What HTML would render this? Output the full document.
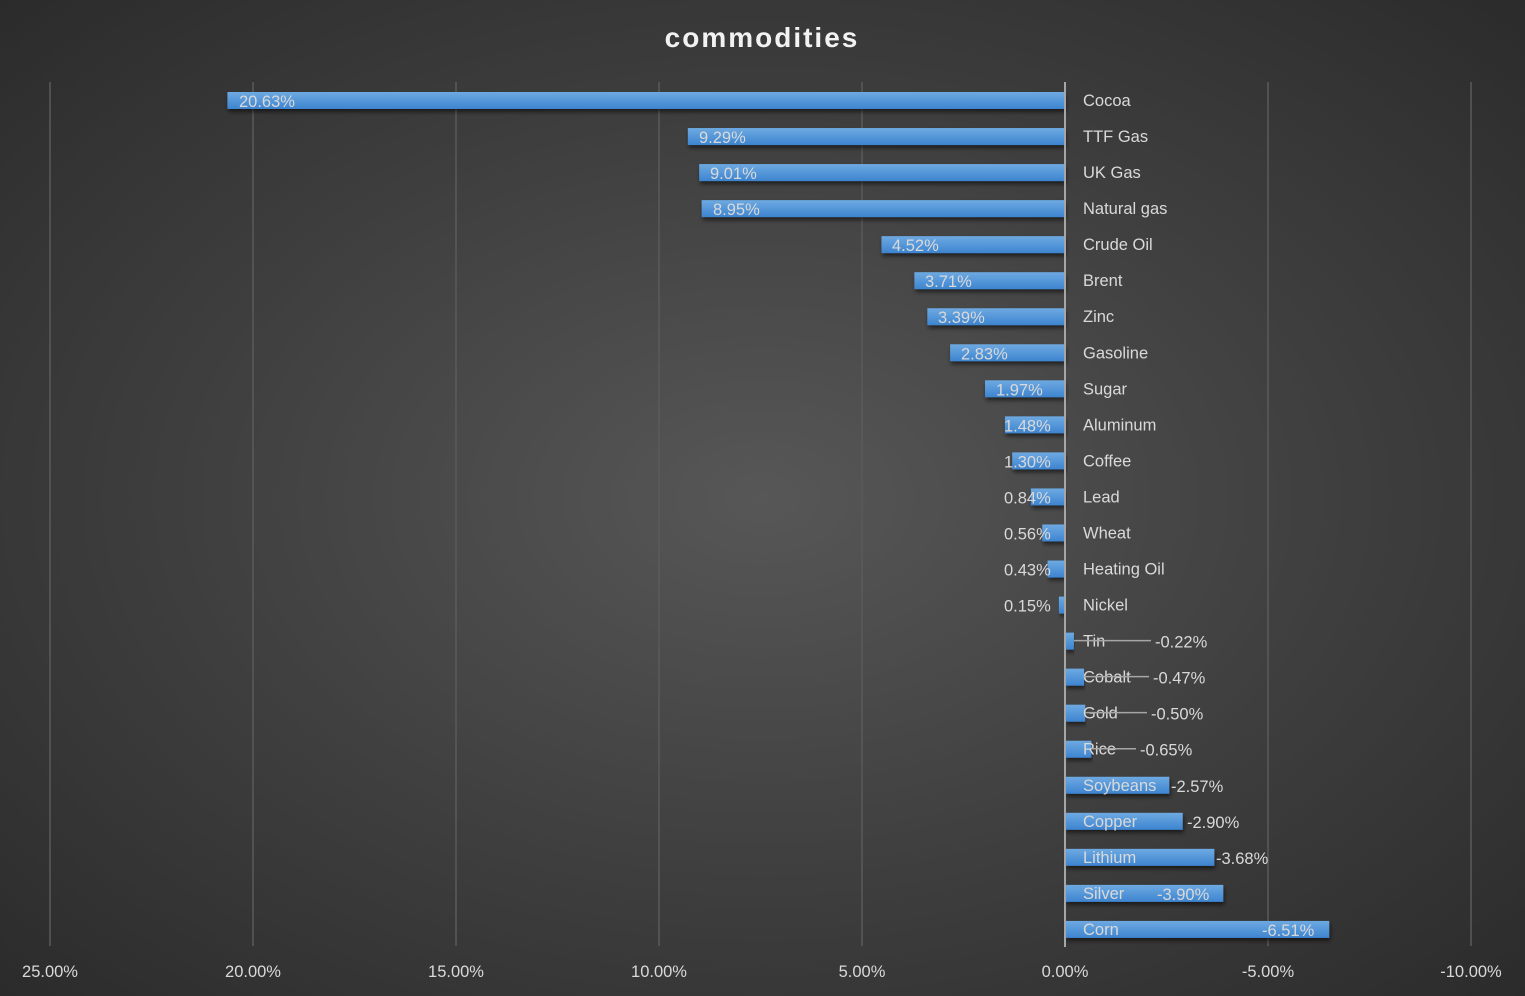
<!DOCTYPE html>
<html><head><meta charset="utf-8"><style>
html,body{margin:0;padding:0;width:1525px;height:996px;overflow:hidden}
body{background:radial-gradient(ellipse at 50% 50%,#575757 0%,#3e3e3e 55%,#2b2b2b 100%)}
svg{position:absolute;left:0;top:0}
text{font-family:"Liberation Sans",sans-serif;fill:#d9d9d9}
</style></head><body>
<svg id="s" width="1525" height="996" xmlns="http://www.w3.org/2000/svg">
<defs>
<linearGradient id="g" x1="0" y1="0" x2="0" y2="1"><stop offset="0" stop-color="#6eaae2"/><stop offset="1" stop-color="#3d84cf"/></linearGradient>
<filter id="sh" x="-5%" y="-30%" width="110%" height="180%"><feDropShadow dx="1" dy="3" stdDeviation="2" flood-color="#000" flood-opacity="0.55"/></filter>
</defs>
<text x="762" y="47" text-anchor="middle" font-size="28" font-weight="bold" letter-spacing="2" style="fill:#f2f2f2">commodities</text>
</svg>
<script>
var s=document.getElementById('s'),NS='http://www.w3.org/2000/svg';
function el(t,a,txt){var e=document.createElementNS(NS,t);for(var k in a)e.setAttribute(k,a[k]);if(txt)e.textContent=txt;s.appendChild(e);return e;}
var X=function(v){return 1065-v*40.6;};
var ticks=[25,20,15,10,5,0,-5,-10];
ticks.forEach(function(t){var x=X(t);
 if(t!==0)el('line',{x1:x,y1:82,x2:x,y2:946,stroke:'#5a5a5a','stroke-width':1.5});
 el('text',{x:x,y:977,'text-anchor':'middle','font-size':16.5},t.toFixed(2)+'%');});
var d=[["Cocoa",20.63,239],["TTF Gas",9.29,699],["UK Gas",9.01,710],["Natural gas",8.95,713],["Crude Oil",4.52,892],["Brent",3.71,925],["Zinc",3.39,938],["Gasoline",2.83,961],["Sugar",1.97,996],["Aluminum",1.48,1004],["Coffee",1.30,1004],["Lead",0.84,1004],["Wheat",0.56,1004],["Heating Oil",0.43,1004],["Nickel",0.15,1004],
["Tin",-0.22,1155],["Cobalt",-0.47,1153],["Gold",-0.50,1151],["Rice",-0.65,1140],["Soybeans",-2.57,1171],["Copper",-2.90,1187],["Lithium",-3.68,1216],["Silver",-3.90,1157],["Corn",-6.51,1262]];
d.forEach(function(r,i){var y=100+i*36.04,x0=X(r[1]),x1=1065;
 var a=Math.min(x0,x1),w=Math.abs(x0-x1);
 el('rect',{x:a,y:y-8,width:Math.max(w,1),height:17,fill:'url(#g)',filter:'url(#sh)'});
});
el('line',{x1:1065,y1:82,x2:1065,y2:947,stroke:'#a6a6a6','stroke-width':2});
d.forEach(function(r,i){var y=100+i*36.04;
 el('text',{x:1083,y:y+6,'font-size':16.5},r[0]);
 if(i>=15&&i<=18){el('line',{x1:X(r[1]),y1:y,x2:r[2]-4,y2:y,stroke:'#a6a6a6','stroke-width':1.5});}
 el('text',{x:r[2],y:y+7,'font-size':16.5},r[1].toFixed(2)+'%');
});
</script>
</body></html>
